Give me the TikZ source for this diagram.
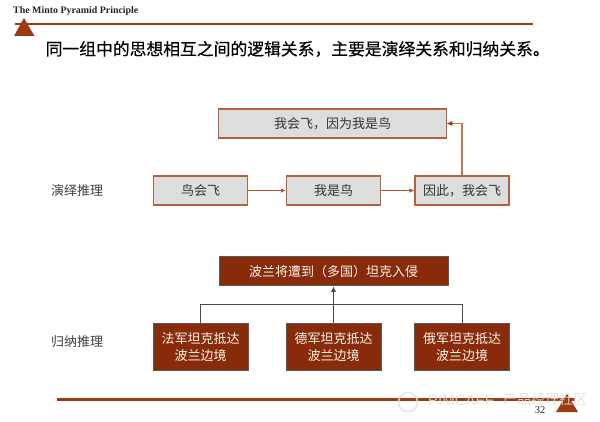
\documentclass[tikz,border=0pt]{standalone}
\usepackage{fontspec}
\setmainfont{Liberation Serif}
\newfontfamily\cjk{Noto Sans CJK SC}
\newfontfamily\cjkb[FakeBold=0.35]{Noto Sans CJK SC}
\newfontfamily\wm{Liberation Sans}
\usetikzlibrary{arrows.meta}
\definecolor{rust}{RGB}{158,58,18}
\definecolor{deep}{RGB}{135,43,10}
\definecolor{graybox}{RGB}{221,221,221}
\definecolor{lnk}{RGB}{190,120,90}
\definecolor{boxedge}{RGB}{178,98,60}
\definecolor{wmark}{RGB}{226,226,226}
\tikzset{
  x=1pt,y=-1pt,
  boxg/.style={draw=boxedge,line width=1.5pt,fill=graybox,minimum height=29pt,inner sep=0pt,align=center,font=\cjk\fontsize{13}{16}\selectfont,text=black!80},
  boxr/.style={draw=black!65,line width=1pt,fill=deep,inner sep=0pt,align=center,font=\cjk\fontsize{13}{16.5}\selectfont,text=white!92!orange},
  side/.style={font=\cjk\fontsize{13}{16}\selectfont,text=black!75,inner sep=0pt},
  link/.style={draw=lnk,line width=1.4pt},
  linkd/.style={draw=rust!85!white,line width=1pt,-{Latex[length=5pt,width=5pt,fill=rust]}},
  tree/.style={draw=black!70,line width=1pt},
  rulebar/.style={draw=rust,line width=2.2pt},
  tri/.style={fill=rust,draw=none}
}
\begin{document}
\begin{tikzpicture}
\useasboundingbox (0,0) rectangle (600,422);
\fill[white] (0,0) rectangle (600,422);
% header
\node[anchor=west,inner sep=0pt,font=\bfseries\fontsize{9.9}{11}\selectfont,text=black!85] (head) at (13,11) {The Minto Pyramid Principle};
\coordinate (hl) at (15,24); \coordinate (hr) at (533,24);
\draw[rulebar] (hl) -- (hr);
\fill[tri] (24,18) -- (34.5,36) -- (14,36) -- cycle;
% title
\node[anchor=west,inner sep=0pt,font=\cjkb\fontsize{16.8}{20}\selectfont,text=black] (title) at (45.5,49) {同一组中的思想相互之间的逻辑关系，主要是演绎关系和归纳关系。};
% deduction
\node[boxg,minimum width=228pt] (top) at (332.5,123.5) {我会飞，因为我是鸟};
\node[boxg,minimum width=94pt] (a) at (200.5,190.5) {鸟会飞};
\node[boxg,minimum width=94pt] (b) at (333.5,190.5) {我是鸟};
\node[boxg,minimum width=94pt] (c) at (462,190.5) {因此，我会飞};
\node[side,anchor=west] (l1) at (51,190.5) {演绎推理};
\draw[linkd] (a) -- (b);
\draw[linkd] (b) -- (c);
\draw[link] (c.north) -- (c.north |- top.east) -- (top.east);
\fill[rust] (top.east) -- ++(5,-2.5) -- ++(0,5) -- cycle;
% induction
\node[boxr,minimum width=229pt,minimum height=29pt] (ptop) at (333.5,271.5) {波兰将遭到（多国）坦克入侵};
\node[boxr,minimum width=95pt,minimum height=47pt] (p1) at (200.5,347) {法军坦克抵达\\波兰边境};
\node[boxr,minimum width=95pt,minimum height=47pt] (p2) at (333.5,347) {德军坦克抵达\\波兰边境};
\node[boxr,minimum width=95pt,minimum height=47pt] (p3) at (462,347) {俄军坦克抵达\\波兰边境};
\node[side,anchor=west] (l2) at (51,342) {归纳推理};
\coordinate (bar) at (333.5,304.5);
\draw[tree] (p1.north) -- (p1.north |- bar) -- (p3.north |- bar) -- (p3.north);
\draw[tree,-{Latex[length=5.5pt,width=5.5pt]}] (p2.north) -- (ptop.south);
% footer
\coordinate (fl) at (57,399.5); \coordinate (fr) at (575,399.5);
\draw[rulebar] (fl) -- (fr);
\fill[tri] (567,394) -- (578,412) -- (556,412) -- cycle;
% watermark
\draw[wmark,line width=1.6pt,opacity=.85] (408,402) circle (9.5);
\node[anchor=west,inner sep=0pt,font=\wm\fontsize{15}{17}\selectfont,text=wmark,opacity=.85] (wm1) at (428,400.5) {PIMCAFF};
\node[anchor=west,inner sep=0pt,font=\cjk\fontsize{14}{15}\selectfont,text=wmark,opacity=.85] (wm2) at (503,399) {产品经理社区};
\node[inner sep=0pt,font=\fontsize{10.5}{12}\selectfont,text=black!85] (pg) at (540,410.5) {32};
\end{tikzpicture}
\end{document}
